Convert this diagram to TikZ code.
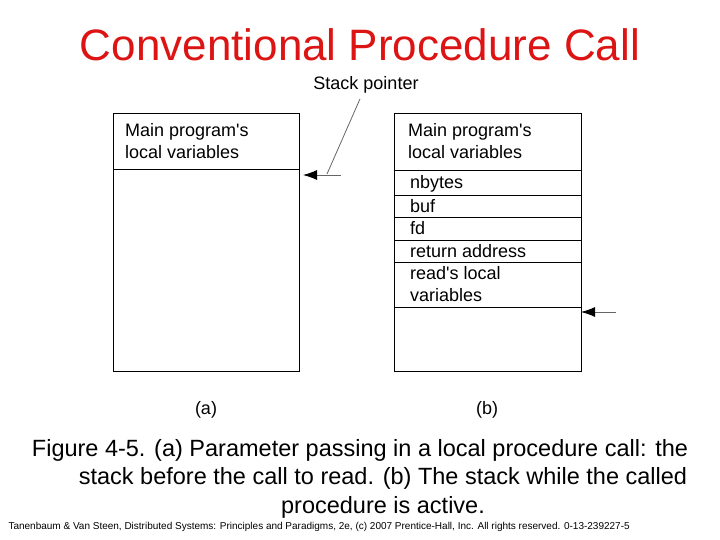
\documentclass[tikz,border=0pt]{standalone}
\usepackage{fontspec}
\setmainfont{Liberation Sans}
\usetikzlibrary{arrows.meta}
\definecolor{titlered}{RGB}{220,20,20}
\tikzset{
    frame/.style={draw, line width=0.8pt}, % stack outline
    cell/.style={anchor=west, font=\fontsize{18}{22}\selectfont, inner sep=0pt}, % text in a cell
    capline/.style={font=\fontsize{23.5}{29}\selectfont, inner sep=0pt}, % caption text
    sp arrow/.style={draw=gray!80!black, line width=0.9pt, -{Latex[length=14pt, width=10pt, black]}}
}
\begin{document}
\begin{tikzpicture}[x=1pt, y=-1pt]
    \useasboundingbox (0,0) rectangle (720,540);
    \node[text=titlered, font=\fontsize{44}{48}\selectfont] (title) at (360,45) {Conventional Procedure Call};

    % stack (a)
    \draw[frame] (113,113) rectangle (299,371);
    \draw[frame] (113,169) -- (299,169);
    \node[cell, align=left] (mainA) at (125,141) {Main program\textquotesingle s\\local variables};
    \node[font=\fontsize{18}{22}\selectfont] (labA) at (206,410) {(a)};

    % stack (b)
    \draw[frame] (394,113) rectangle (581,371);
    \foreach \y in {170,195,217,240,262,307} {\draw[frame] (394,\y) -- (581,\y);}
    \node[cell, align=left] (mainB) at (408,141) {Main program\textquotesingle s\\local variables};
    \node[cell] (nbytes) at (410,184) {nbytes};
    \node[cell] (buf) at (410,206) {buf};
    \node[cell] (fd) at (410,228) {fd};
    \node[cell] (ret) at (410,251) {return address};
    \node[cell, align=left] (readloc) at (410,284) {read\textquotesingle s local\\variables};
    \node[font=\fontsize{18}{22}\selectfont] (labB) at (487,410) {(b)};

    % stack pointers
    \coordinate (spA) at (341,175);
    \coordinate (tipA) at (303,175);
    \coordinate (spB) at (616,312);
    \coordinate (tipB) at (581,312);
    \node[font=\fontsize{18}{21}\selectfont] (sp) at (366,85) {Stack pointer};
    \draw[sp arrow] (spA) -- (tipA);
    \draw[sp arrow] (spB) -- (tipB);
    \draw[gray!80!black, line width=0.8pt] (sp.south) ++(-6,2) -- (327,174);

    % caption
    \node[capline] (cap1) at (360,450) {Figure 4-5. (a) Parameter passing in a local procedure call: the};
    \node[capline] (cap2) at (383,478) {stack before the call to read. (b) The stack while the called};
    \node[capline] (cap3) at (383,507) {procedure is active.};
    \node[font=\fontsize{10}{12}\selectfont, anchor=west] (footer) at (5,527)
        {Tanenbaum \& Van Steen, Distributed Systems: Principles and Paradigms, 2e, (c) 2007 Prentice-Hall, Inc. All rights reserved. 0-13-239227-5};
\end{tikzpicture}
\end{document}
